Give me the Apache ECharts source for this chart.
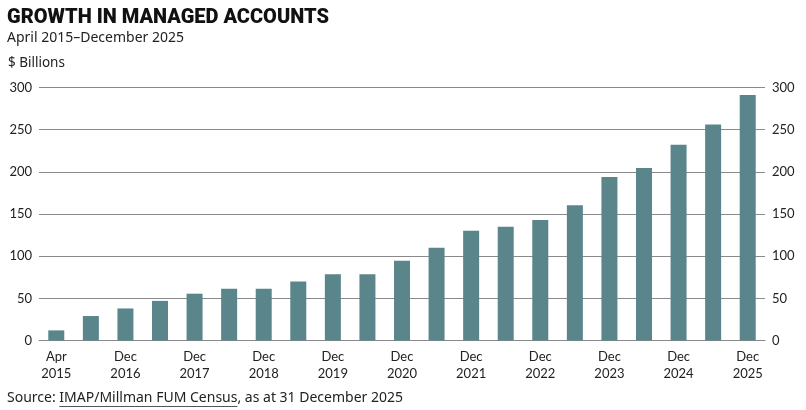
<!DOCTYPE html>
<html>
<head>
<meta charset="utf-8">
<script src="https://cdn.jsdelivr.net/npm/echarts@6/dist/echarts.min.js"></script>
<style>
html,body{margin:0;padding:0;background:#fff;}
#c{width:806px;height:410px;}
</style>
</head>
<body>
<div id="c"></div>
<script>
const categories = ["Apr 2015","Dec 2015","Dec 2016","Jun 2017","Dec 2017","Jun 2018","Dec 2018","Jun 2019","Dec 2019","Jun 2020","Dec 2020","Jun 2021","Dec 2021","Jun 2022","Dec 2022","Jun 2023","Dec 2023","Jun 2024","Dec 2024","Jun 2025","Dec 2025"];
const fumValues = [12, 29, 38, 47, 55.5, 61.5, 61.5, 70, 78.5, 78.5, 94.5, 110, 130, 135, 143, 160.5, 194, 204.5, 232, 256, 291];
const yTicks = [0, 50, 100, 150, 200, 250, 300];

const FONT = 'Lato';
const SRC_FONT = 'Noto Sans';
const SRC_SIZE = 14;
const sourcePrefix = 'Source: ';
const sourceLink = 'IMAP/Millman FUM Census';
const sourceSuffix = ', as at 31 December 2025';

const ctx = document.createElement('canvas').getContext('2d');
ctx.font = SRC_SIZE + 'px "' + SRC_FONT + '"';
const prefixW = ctx.measureText(sourcePrefix).width;
const linkW = ctx.measureText(sourceLink).width;
const srcLeft = 7;

const chart = echarts.init(document.getElementById('c'), null, {renderer: 'canvas'});
const yAxisCommon = {
  type: 'value',
  min: yTicks[0],
  max: yTicks[yTicks.length - 1],
  interval: 50,
  axisLine: {show: false},
  axisTick: {show: false},
  axisLabel: {color: '#222', fontSize: 13, fontFamily: FONT, margin: 7},
  splitLine: {lineStyle: {color: '#8a8a8a', width: 1}}
};
chart.setOption({
  animation: false,
  backgroundColor: '#fff',
  title: [
    {text: 'GROWTH IN MANAGED ACCOUNTS', left: 7, top: 7, padding: 0,
     textStyle: {fontFamily: 'Roboto', fontWeight: 900, fontSize: 20, lineHeight: 22, color: '#111'}},
    {text: 'April 2015–December 2025', left: 7, top: 30, padding: 0,
     textStyle: {fontFamily: SRC_FONT, fontWeight: 'normal', fontSize: 14, lineHeight: 17, color: '#222'}},
    {text: '$ Billions', left: 8, top: 55, padding: 0,
     textStyle: {fontFamily: SRC_FONT, fontWeight: 'normal', fontSize: 13.5, lineHeight: 16, color: '#222'}},
    {text: sourcePrefix + sourceLink + sourceSuffix, left: srcLeft, top: 390, padding: 0,
     textStyle: {fontFamily: SRC_FONT, fontWeight: 'normal', fontSize: SRC_SIZE, lineHeight: 17, color: '#222'}}
  ],
  graphic: [
    {type: 'line', shape: {x1: srcLeft + prefixW, y1: 406.5, x2: srcLeft + prefixW + linkW, y2: 406.5},
     style: {stroke: '#555', lineWidth: 1}}
  ],
  grid: {left: 39, right: 41, top: 87.5, bottom: 69.5, containLabel: false},
  xAxis: {
    type: 'category',
    data: categories,
    axisLine: {show: true, lineStyle: {color: '#8a8a8a', width: 1}},
    axisTick: {show: false},
    axisLabel: {
      interval: 1,
      color: '#222', fontSize: 13, fontFamily: FONT, lineHeight: 17, margin: 8,
      formatter: v => v.replace(' ', '\n')
    }
  },
  yAxis: [
    Object.assign({}, yAxisCommon, {position: 'left'}),
    Object.assign({}, yAxisCommon, {position: 'right', splitLine: {show: false}})
  ],
  series: [{
    type: 'bar',
    data: fumValues,
    barWidth: 16,
    itemStyle: {color: '#5a858a'}
  }]
});
</script>
</body>
</html>
